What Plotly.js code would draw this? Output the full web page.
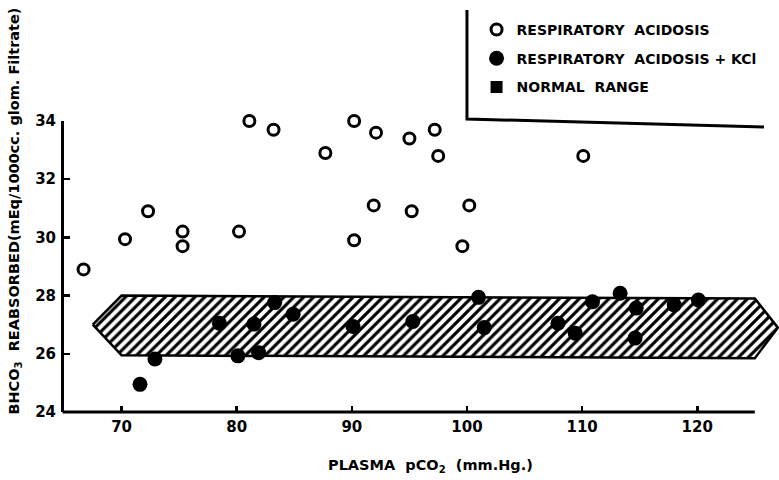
<!DOCTYPE html>
<html><head><meta charset="utf-8">
<script src="https://cdn.plot.ly/plotly-3.0.1.min.js"></script>
<style>html,body{margin:0;padding:0;background:#fff}</style>
</head><body><div id="chart" style="width:779px;height:480px"></div>
<script>
// Respiratory acidosis (open circles)
const acidosisX = [66.7, 70.3, 72.3, 75.3, 75.3, 80.2, 81.1, 83.2, 87.7, 90.2, 90.2, 91.9, 92.1, 95.0, 95.2, 97.2, 97.5, 99.6, 100.2, 110.1];
const acidosisY = [28.9, 29.94, 30.9, 30.2, 29.7, 30.2, 34.0, 33.7, 32.9, 34.0, 29.9, 31.1, 33.6, 33.4, 30.9, 33.7, 32.8, 29.7, 31.1, 32.8];
// Respiratory acidosis + KCl (filled circles)
const kclX = [71.6, 72.9, 78.5, 80.1, 81.5, 81.9, 83.3, 84.9, 90.1, 95.3, 101.0, 101.5, 107.9, 109.4, 110.9, 113.3, 114.7, 114.6, 118.0, 120.1];
const kclY = [24.95, 25.82, 27.05, 25.93, 27.02, 26.04, 27.76, 27.36, 26.94, 27.11, 27.94, 26.9, 27.05, 26.71, 27.79, 28.08, 27.57, 26.54, 27.68, 27.85];
// Normal range band (outline)
const normalX = [67.5, 70, 125, 127.0, 125, 70, 67.5];
const normalY = [27.0, 28.0, 27.9, 26.9, 25.85, 25.95, 27.0];

const xTickVals = [70, 80, 90, 100, 110, 120];
const yTickVals = [24, 26, 28, 30, 32, 34];
const xRange = [65, 127.1];
const xAxisEnd = 125;
const yRange = [24, 34];

const labels = {
  open: 'RESPIRATORY  ACIDOSIS',
  filled: 'RESPIRATORY  ACIDOSIS + KCl',
  band: 'NORMAL  RANGE',
  xTitle: 'PLASMA  pCO<sub>2</sub>  (mm.Hg.)',
  yTitle: 'BHCO<sub>3</sub>  REABSORBED(mEq/1000cc. glom. Filtrate)'
};

const FONT = 'DejaVu Sans';
const bold = (size) => ({family: FONT, size: size, color: '#000', weight: 700});

const traces = [
  {
    x: normalX, y: normalY, type: 'scatter', mode: 'lines', fill: 'toself',
    fillcolor: '#fff',
    fillpattern: {shape: '/', fgcolor: '#000', bgcolor: '#fff', size: 7, solidity: 0.45},
    line: {color: '#000', width: 2.5},
    name: labels.band, showlegend: false, hoverinfo: 'skip'
  },
  {
    x: kclX, y: kclY, type: 'scatter', mode: 'markers',
    marker: {symbol: 'circle', size: 15, color: '#000'},
    name: labels.filled, legendgroup: 'b', legendrank: 2, cliponaxis: false
  },
  {
    x: acidosisX, y: acidosisY, type: 'scatter', mode: 'markers',
    marker: {symbol: 'circle-open', size: 11, color: '#000', line: {width: 3, color: '#000'}},
    name: labels.open, legendgroup: 'a', legendrank: 1, cliponaxis: false
  },
  {
    // legend entry for the normal range band
    x: [null], y: [null], type: 'scatter', mode: 'markers',
    marker: {symbol: 'square', size: 12, color: '#000'},
    name: labels.band, legendgroup: 'c', legendrank: 3, hoverinfo: 'skip'
  }
];

const axisEndPaper = (xAxisEnd - xRange[0]) / (xRange[1] - xRange[0]);

const layout = {
  width: 779, height: 480,
  margin: {l: 64, r: 0, t: 121, b: 68, pad: 0},
  paper_bgcolor: '#fff', plot_bgcolor: '#fff',
  font: bold(13),
  showlegend: true,
  legend: {
    x: 0.577, y: 1.368, xanchor: 'left', yanchor: 'top',
    bgcolor: 'rgba(0,0,0,0)', borderwidth: 0,
    font: bold(14), traceorder: 'grouped', tracegroupgap: 7.5, itemwidth: 30
  },
  xaxis: {
    range: xRange, tickvals: xTickVals, ticktext: xTickVals.map(String),
    showline: false, showgrid: false, zeroline: false,
    ticks: 'inside', ticklen: 6, tickwidth: 2.5, tickcolor: '#000',
    tickfont: bold(15), ticklabelstandoff: 4
  },
  yaxis: {
    range: yRange, tickvals: yTickVals, ticktext: yTickVals.map(String),
    showline: true, linewidth: 3, linecolor: '#000',
    showgrid: false, zeroline: false,
    ticks: 'inside', ticklen: 6, tickwidth: 2.5, tickcolor: '#000',
    tickfont: bold(15), ticklabelstandoff: 2
  },
  shapes: [
    {type: 'line', xref: 'paper', yref: 'paper', x0: -0.002, x1: axisEndPaper, y0: 0, y1: 0,
     line: {color: '#000', width: 3}},
    {type: 'path', xref: 'paper', yref: 'paper',
     path: 'M 0.5636 1.3814 L 0.5636 1.0069 L 0.979 0.9794',
     line: {color: '#000', width: 3}}
  ],
  annotations: [
    {text: labels.yTitle, xref: 'paper', yref: 'paper', x: -0.068, y: 0.69,
     xanchor: 'center', yanchor: 'middle', textangle: -90, showarrow: false, font: bold(14.5)},
    {text: labels.xTitle, xref: 'paper', yref: 'paper', x: 0.512, y: -0.186,
     xanchor: 'center', yanchor: 'middle', showarrow: false, font: bold(14.5)}
  ]
};

Plotly.newPlot('chart', traces, layout, {displayModeBar: false, staticPlot: true});
</script>
</body></html>
